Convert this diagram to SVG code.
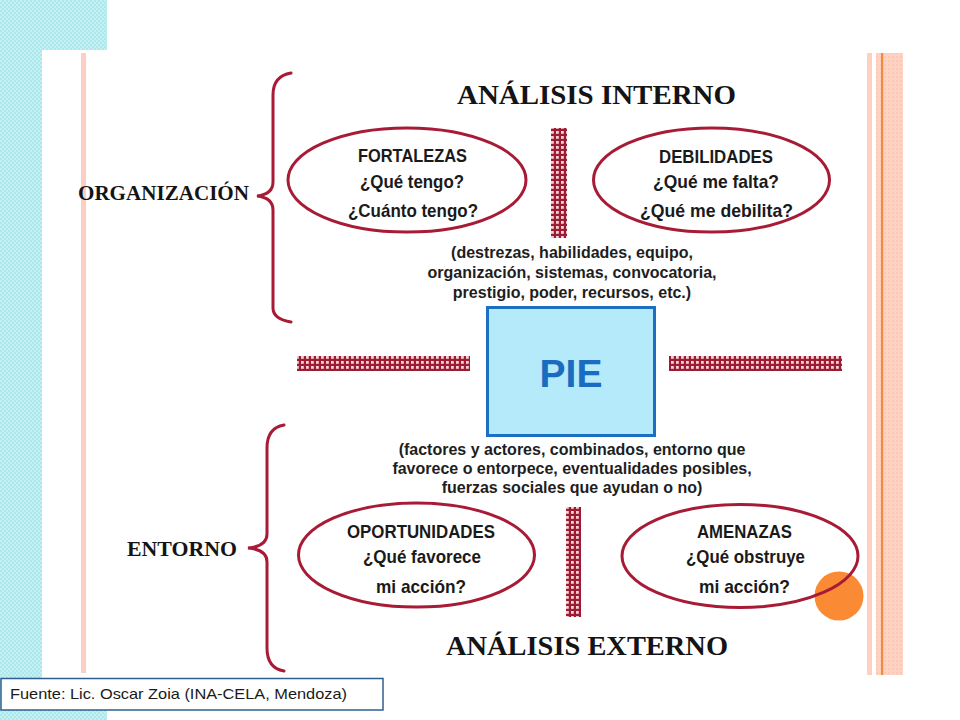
<svg xmlns="http://www.w3.org/2000/svg" width="960" height="720" viewBox="0 0 960 720">
<defs>
<pattern id="cyan" width="4" height="4" patternUnits="userSpaceOnUse">
<rect width="4" height="4" fill="#ace7eb"/>
<rect width="2" height="2" fill="#c3f1f3"/>
<rect x="2" y="2" width="2" height="2" fill="#c3f1f3"/>
</pattern>
<pattern id="hatch" width="5" height="5" patternUnits="userSpaceOnUse">
<rect width="5" height="5" fill="#9c1d33"/>
<rect x="1" y="1" width="2.8" height="2.8" fill="#f3d0d5"/>
</pattern>
<pattern id="salmon" width="4" height="4" patternUnits="userSpaceOnUse">
<rect width="4" height="4" fill="#fdd2c2"/>
<rect width="2" height="2" fill="#fcc9b6"/>
</pattern>
<style>
.title{font-family:"Liberation Serif","Times New Roman",serif;font-weight:bold;fill:#141414;}
.ell{fill:none;stroke:#a81b36;stroke-width:3;}
.et{font-family:"Liberation Sans Narrow","Liberation Sans",Arial,sans-serif;font-weight:bold;font-size:18.5px;fill:#1a1a1a;text-anchor:middle;}
.para{font-family:"Liberation Sans",Arial,sans-serif;font-weight:bold;font-size:16px;fill:#1e1e1e;text-anchor:middle;}
.brace{fill:none;stroke:#a81b36;stroke-width:3;stroke-linecap:round;}
.bar{fill:url(#hatch);}
</style>
</defs>
<rect width="960" height="720" fill="#ffffff"/>
<g id="background">
<rect x="0" y="0" width="107" height="50" fill="url(#cyan)"/>
<rect x="0" y="0" width="42" height="720" fill="url(#cyan)"/>
<rect x="0" y="710" width="107" height="10" fill="url(#cyan)"/>
<rect x="81" y="53" width="5" height="620" fill="#fdcfc2"/>
<rect x="867" y="53" width="5" height="622" fill="#fdd0c0"/>
<rect x="876" y="53" width="27" height="622" fill="url(#salmon)"/>
<rect x="881" y="53" width="2.2" height="622" fill="#f08a3e"/>
</g>
<g id="orange-dot">
<circle cx="839" cy="596" r="24.5" fill="#fb8a35"/>
</g>
<g id="connectors">
<rect class="bar" x="551" y="128" width="16" height="110"/>
<rect class="bar" x="566" y="507" width="15" height="110"/>
<rect class="bar" x="297" y="356" width="173" height="15"/>
<rect class="bar" x="669" y="356" width="173" height="15"/>
<path class="brace" d="M291,73 C279,75 273,82 273,95 L273,182 C273,191 266,195 257,196 C266,197 273,201 273,210 L273,308 C273,316 279,320 291,322"/>
<path class="brace" d="M284,425 C272,427 267,435 267,448 L267,534 C267,543 259,547 248,548 C259,549 267,553 267,562 L267,648 C267,661 272,669 284,671"/>
</g>
<g id="titulo-interno"><text class="title" x="596.5" y="104" font-size="28" text-anchor="middle" textLength="279" lengthAdjust="spacingAndGlyphs">ANÁLISIS INTERNO</text></g>
<g id="titulo-externo"><text class="title" x="587" y="655" font-size="28" text-anchor="middle" textLength="282" lengthAdjust="spacingAndGlyphs">ANÁLISIS EXTERNO</text></g>
<g id="organizacion"><text class="title" x="78" y="200" font-size="21" textLength="171" lengthAdjust="spacingAndGlyphs">ORGANIZACIÓN</text></g>
<g id="entorno"><text class="title" x="127" y="556" font-size="21.5" textLength="110" lengthAdjust="spacingAndGlyphs">ENTORNO</text></g>
<g id="fortalezas">
<ellipse class="ell" cx="407" cy="180" rx="119" ry="52"/>
<text class="et" x="412.5" y="162" textLength="109" lengthAdjust="spacingAndGlyphs">FORTALEZAS</text>
<text class="et" x="412" y="188" textLength="104" lengthAdjust="spacingAndGlyphs">¿Qué tengo?</text>
<text class="et" x="413" y="217" textLength="130" lengthAdjust="spacingAndGlyphs">¿Cuánto tengo?</text>
</g>
<g id="debilidades">
<ellipse class="ell" cx="711.5" cy="180" rx="118" ry="52"/>
<text class="et" x="716" y="163" textLength="114" lengthAdjust="spacingAndGlyphs">DEBILIDADES</text>
<text class="et" x="716" y="188" textLength="126" lengthAdjust="spacingAndGlyphs">¿Qué me falta?</text>
<text class="et" x="716.5" y="217" textLength="153" lengthAdjust="spacingAndGlyphs">¿Qué me debilita?</text>
</g>
<g id="interno-detalle">
<text class="para" x="572" y="258">(destrezas, habilidades, equipo,</text>
<text class="para" x="572" y="278">organización, sistemas, convocatoria,</text>
<text class="para" x="572" y="298">prestigio, poder, recursos, etc.)</text>
</g>
<g id="pie">
<rect x="487.5" y="307.5" width="167" height="128" fill="#b5eafb" stroke="#1c6fc2" stroke-width="3"/>
<text x="571" y="387" font-family="Liberation Sans,Arial,sans-serif" font-weight="bold" font-size="39" fill="#1a6cc0" text-anchor="middle">PIE</text>
</g>
<g id="externo-detalle">
<text class="para" x="572" y="455">(factores y actores, combinados, entorno que</text>
<text class="para" x="572" y="474">favorece o entorpece, eventualidades posibles,</text>
<text class="para" x="572" y="493">fuerzas sociales que ayudan o no)</text>
</g>
<g id="oportunidades">
<ellipse class="ell" cx="416.5" cy="555" rx="118" ry="52"/>
<text class="et" x="421" y="538" textLength="148" lengthAdjust="spacingAndGlyphs">OPORTUNIDADES</text>
<text class="et" x="422" y="563" textLength="118" lengthAdjust="spacingAndGlyphs">¿Qué favorece</text>
<text class="et" x="421" y="593" textLength="90" lengthAdjust="spacingAndGlyphs">mi acción?</text>
</g>
<g id="amenazas">
<ellipse class="ell" cx="740" cy="556" rx="118" ry="51.5"/>
<text class="et" x="744.5" y="538" textLength="95" lengthAdjust="spacingAndGlyphs">AMENAZAS</text>
<text class="et" x="745.5" y="563" textLength="119" lengthAdjust="spacingAndGlyphs">¿Qué obstruye</text>
<text class="et" x="744.5" y="593" textLength="91" lengthAdjust="spacingAndGlyphs">mi acción?</text>
</g>
<g id="fuente">
<rect x="1" y="678.5" width="382" height="31.5" fill="#ffffff" stroke="#2f5e8e" stroke-width="1.5"/>
<text x="10" y="699" font-family="Liberation Sans,Arial,sans-serif" font-size="15" fill="#1a1a1a" textLength="337" lengthAdjust="spacingAndGlyphs">Fuente: Lic. Oscar Zoia (INA-CELA, Mendoza)</text>
</g>
</svg>
